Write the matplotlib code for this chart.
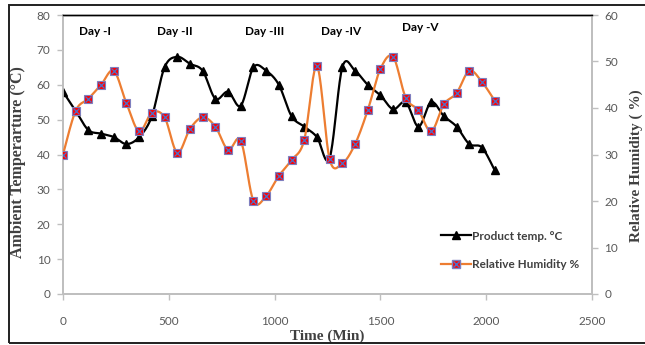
import numpy as np
import matplotlib.pyplot as plt
from matplotlib.lines import Line2D
from matplotlib.patches import Rectangle

# time in minutes, one reading per hour
time_min = list(range(0, 2041, 60))

product_temp = [58, 52.5, 47, 46, 45, 43, 45, 51, 65, 68, 66, 64, 56, 58, 54,
                65, 64, 60, 51, 48, 45, 39, 65, 64, 60, 57, 53, 55, 48, 55,
                51, 48, 43, 42, 35.5]

rel_humidity = [30, 39.4, 42, 45, 48, 41, 35, 39, 38, 30.4, 35.5, 38, 36, 31, 33,
                20, 21.1, 25.4, 28.8, 33.1, 49, 29, 28.1, 32.2, 39.5, 48.4, 51,
                42.2, 39.5, 35, 40.8, 43.2, 48, 45.6, 41.6]

day_labels = ["Day -I", "Day -II", "Day -III", "Day -IV", "Day -V"]
day_x = [150, 528, 952, 1312, 1690]
day_y = [75.4, 75.4, 75.4, 75.4, 76.3]

ORANGE = "#ED7D31"
GRID_GREY = "#BFBFBF"
TICK_GREY = "#595959"


def smooth(x, y, n=20):
    # Catmull-Rom style bezier, same as a spreadsheet "smoothed line"
    x = np.asarray(x, float)
    y = np.asarray(y, float)
    px = np.concatenate([[x[0]], x, [x[-1]]])
    py = np.concatenate([[y[0]], y, [y[-1]]])
    xs, ys = [], []
    t = np.linspace(0, 1, n)
    for i in range(1, len(px) - 2):
        p0 = np.array([px[i], py[i]])
        p3 = np.array([px[i + 1], py[i + 1]])
        c1 = p0 + (p3 - np.array([px[i - 1], py[i - 1]])) / 6
        c2 = p3 - (np.array([px[i + 2], py[i + 2]]) - p0) / 6
        b = (np.outer((1 - t) ** 3, p0) + np.outer(3 * (1 - t) ** 2 * t, c1)
             + np.outer(3 * (1 - t) * t ** 2, c2) + np.outer(t ** 3, p3))
        xs.extend(b[:, 0])
        ys.extend(b[:, 1])
    return xs, ys


fig = plt.figure(figsize=(6.45, 3.45), dpi=100)
ax = fig.add_axes([63 / 645, 1 - 294 / 345, 529 / 645, 279 / 345])
ax2 = ax.twinx()

tick_font = {"family": "Lato", "size": 8.5}

sx, sy = smooth(time_min, product_temp)
ax.plot(sx, sy, color="black", lw=1.6, zorder=3)
ax.plot(time_min, product_temp, ls="none", marker="^", ms=6, color="black", zorder=4)

hx, hy = smooth(time_min, rel_humidity)
ax2.plot(hx, hy, color=ORANGE, lw=1.6, zorder=3)
ax2.plot(time_min, rel_humidity, ls="none", marker="s", ms=5.5, mfc="red",
         mec="#7F7FBF", mew=0.8, zorder=4)
ax2.plot(time_min, rel_humidity, ls="none", marker="x", ms=4.5, color="#4F6FC8",
         mew=0.9, zorder=5)

ax.set_xlim(0, 2500)
ax.set_ylim(0, 80)
ax2.set_ylim(0, 60)
ax.set_xticks(range(0, 2501, 500))
ax.set_yticks(range(0, 81, 10))
ax2.set_yticks(range(0, 61, 10))

for a in (ax, ax2):
    for side in ("left", "right", "bottom"):
        a.spines[side].set_color(GRID_GREY)
        a.spines[side].set_linewidth(1.3)
    a.spines["top"].set_color("black")
    a.spines["top"].set_linewidth(1.0)
    a.tick_params(colors=GRID_GREY, labelcolor=TICK_GREY, length=4, width=1)
    for lab in a.get_xticklabels() + a.get_yticklabels():
        lab.set_fontfamily(tick_font["family"])
        lab.set_fontsize(tick_font["size"])
ax.tick_params(axis="x", pad=12)
ax.tick_params(axis="y", pad=5)
ax2.tick_params(axis="y", pad=5)

label_font = {"family": "Liberation Serif", "weight": "bold", "size": 11.5, "color": "#404040"}
ax.set_xlabel("Time (Min)", fontdict={**label_font, "size": 11}, labelpad=2)
ax.set_ylabel("Ambient Temperarture (°C)", fontdict=label_font)
ax2.set_ylabel("Relative Humidity ( %)", fontdict={**label_font, "size": 11})
ax.yaxis.set_label_coords(-37 / 529, 0.473)
ax2.yaxis.set_label_coords(1 + 38 / 529, 0.459)

for txt, x, y in zip(day_labels, day_x, day_y):
    ax.text(x, y, txt, ha="center", va="center", family="Lato",
            weight="bold", size=8.5, color="black")

h_temp = Line2D([], [], color="black", lw=1.6, marker="^", ms=6)
h_rh = (Line2D([], [], color=ORANGE, lw=1.6, marker="s", ms=5.5, mfc="red", mec="#7F7FBF"),
        Line2D([], [], ls="none", marker="x", ms=4.5, color="#4F6FC8"))
leg = ax2.legend([h_temp, h_rh], ["Product temp. °C", "Relative Humidity %"],
                 loc="upper left", bbox_to_anchor=(430 / 645, 1 - 220 / 345),
                 bbox_transform=fig.transFigure, frameon=False,
                 prop={"family": "Lato", "weight": "bold", "size": 8.5},
                 handlelength=2.6, handletextpad=0.1, labelspacing=1.45)
for t in leg.get_texts():
    t.set_color("#404040")

# chart border
fig.patches.append(Rectangle((9 / 645, 2 / 345), 640 / 645, 338 / 345,
                             transform=fig.transFigure, fill=False,
                             edgecolor="#202020", lw=1.4))

fig.savefig("out.png", dpi=100)
